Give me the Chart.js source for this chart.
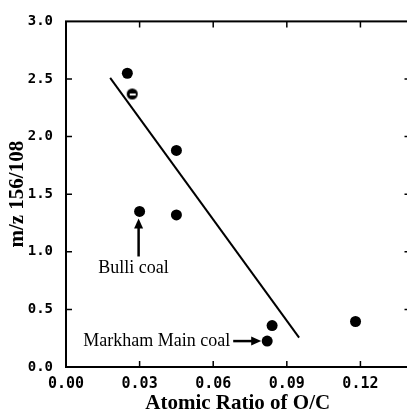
<!DOCTYPE html>
<html>
<head>
<meta charset="utf-8">
<script src="https://cdn.jsdelivr.net/npm/chart.js@4.4.1/dist/chart.umd.min.js"></script>
<style>
  html, body { margin: 0; padding: 0; background: #fff; overflow: hidden; }
  canvas { display: block; }
</style>
</head>
<body>
<canvas id="chart" width="416" height="414"></canvas>
<script>
// atomic O/C ratio against the m/z 156/108 intensity ratio
const ratioOC  = [0.025, 0.045, 0.030, 0.045, 0.084, 0.082, 0.118];
const ratio156 = [2.55, 1.88, 1.35, 1.32, 0.36, 0.225, 0.395];
// sample drawn with the split marker
const splitOC  = [0.027];
const split156 = [2.37];
// end points of the fitted line
const fitOC  = [0.018, 0.095];
const fit156 = [2.51, 0.255];

const xTicks = [0, 0.03, 0.06, 0.09, 0.12];
const yTicks = [0, 0.5, 1.0, 1.5, 2.0, 2.5, 3.0];

const bulliIndex = 2;
const markhamIndex = 5;

const serif = 'Liberation Serif';

function pairs(xs, ys) {
  return xs.map((v, i) => ({ x: v, y: ys[i] }));
}

// black dot with a white bar through the middle
function splitDot(r) {
  const c = document.createElement('canvas');
  c.width = c.height = 2 * r + 2;
  const g = c.getContext('2d');
  g.fillStyle = '#000';
  g.beginPath();
  g.arc(r + 1, r + 1, r, 0, Math.PI * 2);
  g.fill();
  g.fillStyle = '#fff';
  g.fillRect(4, r + 0.5, 2 * r - 5, 2);
  return c;
}

function arrow(ctx, x1, y1, x2, y2) {
  const a = Math.atan2(y2 - y1, x2 - x1);
  const len = 10, half = 4.5;
  ctx.beginPath();
  ctx.moveTo(x1, y1);
  ctx.lineTo(x2 - Math.cos(a) * len * 0.8, y2 - Math.sin(a) * len * 0.8);
  ctx.lineWidth = 2.5;
  ctx.stroke();
  ctx.beginPath();
  ctx.moveTo(x2, y2);
  ctx.lineTo(x2 - Math.cos(a) * len - Math.sin(a) * half, y2 - Math.sin(a) * len + Math.cos(a) * half);
  ctx.lineTo(x2 - Math.cos(a) * len + Math.sin(a) * half, y2 - Math.sin(a) * len - Math.cos(a) * half);
  ctx.closePath();
  ctx.fill();
}

// box around the plot with inward tick marks on all four sides
const frameTicks = {
  id: 'frameTicks',
  afterDatasetsDraw(chart) {
    const { ctx, chartArea: a, scales: { x, y } } = chart;
    ctx.save();
    ctx.strokeStyle = '#000';
    ctx.lineWidth = 2;
    ctx.strokeRect(a.left, a.top, a.right - a.left, a.bottom - a.top);
    ctx.lineWidth = 1.5;
    ctx.beginPath();
    xTicks.slice(1).forEach(v => {
      const px = x.getPixelForValue(v);
      ctx.moveTo(px, a.bottom); ctx.lineTo(px, a.bottom - 6);
      ctx.moveTo(px, a.top); ctx.lineTo(px, a.top + 6);
    });
    yTicks.slice(1, -1).forEach(v => {
      const py = y.getPixelForValue(v);
      ctx.moveTo(a.left, py); ctx.lineTo(a.left + 6, py);
      ctx.moveTo(a.right, py); ctx.lineTo(a.right - 5, py);
    });
    ctx.stroke();
    ctx.restore();
  }
};

// labels and arrows for the two named coals
const callouts = {
  id: 'callouts',
  afterDatasetsDraw(chart) {
    const { ctx, scales: { x, y } } = chart;
    ctx.save();
    ctx.fillStyle = '#000';
    ctx.strokeStyle = '#000';
    ctx.font = `18px "${serif}"`;

    const bx = x.getPixelForValue(ratioOC[bulliIndex]);
    const by = y.getPixelForValue(ratio156[bulliIndex]);
    arrow(ctx, bx - 1, by + 45, bx - 1, by + 7);
    ctx.textAlign = 'center';
    ctx.textBaseline = 'middle';
    ctx.fillText('Bulli coal', bx - 6, by + 57);

    const mx = x.getPixelForValue(ratioOC[markhamIndex]);
    const my = y.getPixelForValue(ratio156[markhamIndex]);
    arrow(ctx, mx - 34, my, mx - 6, my);
    ctx.textAlign = 'right';
    ctx.fillText('Markham Main coal', mx - 37, my);
    ctx.restore();
  }
};

new Chart(document.getElementById('chart'), {
  type: 'scatter',
  data: {
    datasets: [
      {
        data: pairs(ratioOC, ratio156),
        backgroundColor: '#000',
        borderWidth: 0,
        pointRadius: 5.5
      },
      {
        data: pairs(splitOC, split156),
        pointStyle: splitDot(5.5),
        pointRadius: 5.5
      },
      {
        data: pairs(fitOC, fit156),
        showLine: true,
        borderColor: '#000',
        borderWidth: 2,
        pointRadius: 0
      }
    ]
  },
  options: {
    responsive: false,
    animation: false,
    layout: { padding: { top: 13, right: 5, left: 0, bottom: 0 } },
    plugins: { legend: { display: false }, tooltip: { enabled: false } },
    scales: {
      x: {
        type: 'linear',
        min: 0,
        max: 0.14,
        afterBuildTicks: s => { s.ticks = xTicks.map(v => ({ value: v })); },
        afterFit: s => { s.height = 47; },
        grid: { display: false, drawTicks: false },
        border: { display: false },
        ticks: {
          padding: 8,
          color: '#000',
          font: { family: 'DejaVu Sans Mono', size: 15, weight: 'bold' },
          maxRotation: 0,
          callback: v => v.toFixed(2)
        },
        title: {
          display: true,
          text: 'Atomic Ratio of O/C',
          color: '#000',
          font: { family: serif, size: 21, weight: 'bold', lineHeight: 1 },
          padding: { top: 0, bottom: 0 }
        }
      },
      y: {
        type: 'linear',
        min: 0,
        max: 3,
        afterBuildTicks: s => { s.ticks = yTicks.map(v => ({ value: v })); },
        afterFit: s => { s.width = 66; },
        grid: { display: false, drawTicks: false },
        border: { display: false },
        ticks: {
          padding: 13,
          color: '#000',
          font: { family: 'DejaVu Sans Mono', size: 14, weight: 'bold' },
          callback: v => v.toFixed(1)
        },
        title: {
          display: true,
          text: 'm/z 156/108',
          color: '#000',
          font: { family: serif, size: 21, weight: 'bold', lineHeight: 1 },
          padding: { top: 7, bottom: 0 }
        }
      }
    }
  },
  plugins: [frameTicks, callouts]
});
</script>
</body>
</html>
